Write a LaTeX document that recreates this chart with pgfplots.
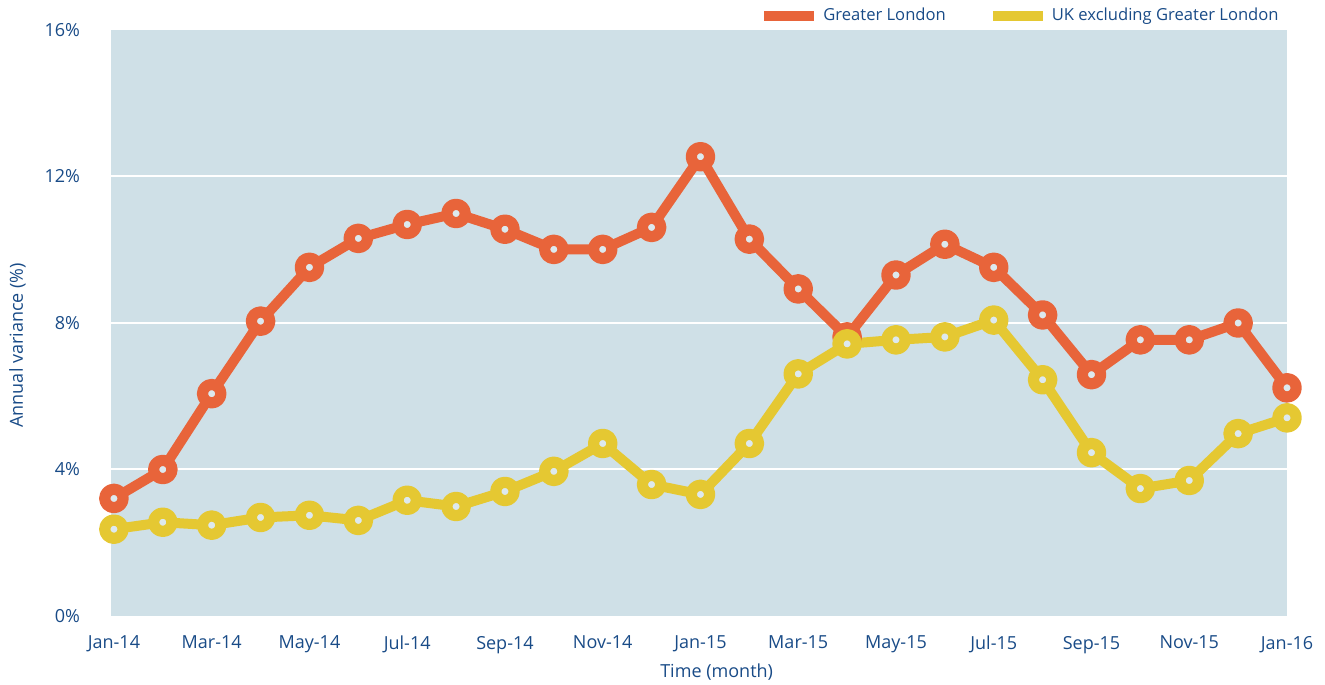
\documentclass[border=0pt]{standalone}
\usepackage{pgfplots}
\pgfplotsset{compat=1.18}
\usepackage{fontspec}
\setmainfont{Open Sans}
\definecolor{bgblue}{RGB}{207,224,231}
\definecolor{gl}{RGB}{232,100,58}
\definecolor{uk}{RGB}{229,200,50}
\definecolor{txt}{RGB}{25,75,135}
\begin{document}
\begin{tikzpicture}
\useasboundingbox (-55.5pt,-34pt) rectangle (607pt,308pt);
\begin{axis}[
  at={(0,0)}, anchor=south west,
  scale only axis, width=588pt, height=293pt,
  xmin=-0.06, xmax=24, ymin=0, ymax=16,
  axis background/.style={fill=bgblue},
  axis line style={draw=none},
  major tick length=0pt,
  clip=false,
  xtick={0,2,...,24},
  xticklabels={Jan-14,Mar-14,May-14,Jul-14,Sep-14,Nov-14,Jan-15,Mar-15,May-15,Jul-15,Sep-15,Nov-15,Jan-16},
  ytick={0,4,8,12,16},
  yticklabels={0\%,4\%,8\%,12\%,16\%},
  extra y ticks={4,8,12},
  extra y tick labels={},
  extra y tick style={grid=major},
  grid style={white, line width=1pt},
  ticklabel style={font=\fontsize{9}{11}\selectfont, text=txt},
  yticklabel style={xshift=-12pt},
  xticklabel style={yshift=-6.5pt},
  xlabel={Time (month)},
  ylabel={Annual variance (\%)},
  label style={font=\fontsize{9}{11}\selectfont, text=txt},
  xlabel style={at={(axis description cs:0.515,0)}, anchor=center, yshift=-28pt},
  ylabel style={at={(axis description cs:-0.0795,0.462)}, anchor=center},
  legend columns=2,
  legend style={at={(axis description cs:1,1)}, anchor=south east, draw=none, fill=none,
    font=\fontsize{8.3}{10}\selectfont, text=txt, yshift=-1pt, xshift=1pt,
    /tikz/every even column/.append style={column sep=19pt},
    /tikz/every odd column/.append style={column sep=0pt}},
  legend image code/.code={\fill[#1, draw=none] (0pt,-2.5pt) rectangle (18.5pt,2.5pt);
    \path (0pt,0pt) -- (25pt,0pt);},
]
\addplot[gl, line width=5pt, line join=round, mark=*, mark size=4.6pt,
  mark options={fill=bgblue!70!white, draw=gl, line width=5.6pt}] coordinates {
(0,3.21) (1,4.0) (2,6.07) (3,8.05) (4,9.52) (5,10.31) (6,10.69) (7,10.99) (8,10.56) (9,10.01) (10,10.01) (11,10.61) (12,12.54) (13,10.29) (14,8.93) (15,7.62) (16,9.31) (17,10.15) (18,9.52) (19,8.22) (20,6.59) (21,7.54) (22,7.54) (23,8.0) (24,6.23)
};
\addlegendentry{Greater London}
\addplot[uk, line width=5pt, line join=round, mark=*, mark size=4.6pt,
  mark options={fill=bgblue!70!white, draw=uk, line width=5.6pt}] coordinates {
(0,2.37) (1,2.56) (2,2.48) (3,2.69) (4,2.75) (5,2.61) (6,3.16) (7,2.99) (8,3.40) (9,3.95) (10,4.71) (11,3.59) (12,3.32) (13,4.71) (14,6.61) (15,7.43) (16,7.54) (17,7.62) (18,8.08) (19,6.45) (20,4.46) (21,3.48) (22,3.70) (23,4.98) (24,5.41)
};
\addlegendentry{UK excluding Greater London}
\end{axis}
\end{tikzpicture}
\end{document}
